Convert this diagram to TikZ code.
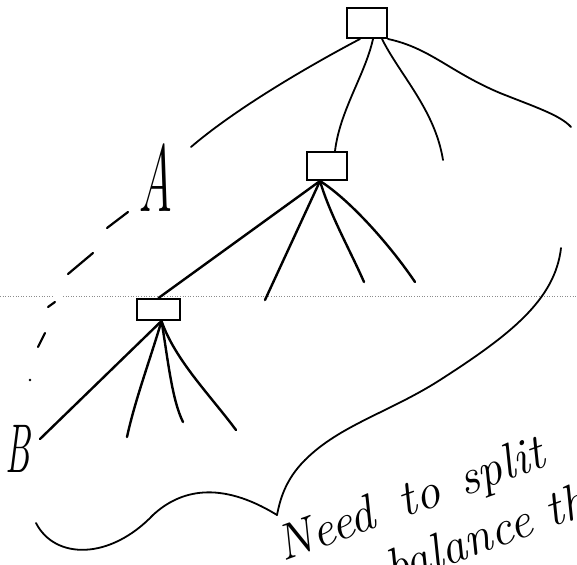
\documentclass[tikz,border=0pt]{standalone}
\usepackage{fontspec}
\usepackage{graphicx}
\begin{document}
\begin{tikzpicture}[x=1pt,y=-1pt,
  ink/.style={line width=1.8pt, line cap=round, line join=round},
  heavy/.style={line width=2.4pt, line cap=round, line join=round},
  boxnode/.style={draw, line width=2pt, inner sep=0pt, rectangle},
  dashseg/.style={line width=2.2pt, line cap=round},
  hand/.style={font=\fontsize{50}{50}\selectfont\itshape, inner sep=0pt, rotate=20},
  letter/.style={inner sep=0pt},
  scanline/.style={black!45, line width=0.6pt, dash pattern=on 1pt off 1.6pt}]
\useasboundingbox (0,0) rectangle (577,564);
\clip (0,0) rectangle (577,564);
\fill[white] (0,0) rectangle (577,564);

% faint scan line
\draw[scanline] (0,296) -- (53,296);
\draw[scanline] (63,296) -- (577,296);

% boxes
\node[boxnode, minimum width=40pt, minimum height=30pt] (top) at (367,23) {};
\node[boxnode, minimum width=40pt, minimum height=28pt] (mid) at (327,166) {};
\node[boxnode, minimum width=43pt, minimum height=21pt] (low) at (158.5,309.5) {};

% leaf ends
\coordinate (a1) at (191,147);
\coordinate (t3) at (443,160);
\coordinate (t4) at (571,127);
\coordinate (m1) at (265,300);
\coordinate (m2) at (364,282);
\coordinate (m3) at (415,282);
\coordinate (l1) at (40,439);
\coordinate (l2) at (127,437);
\coordinate (l3) at (183,422);
\coordinate (l4) at (236,430);
\coordinate (s0) at (561,248);
\coordinate (join) at (277,515);
\coordinate (w0) at (36,523);

% labels
\node[letter] (A) at (156,178) {\scalebox{0.5}[1]{\fontsize{95}{95}\selectfont\itshape A}};
\node[letter] (B) at (18,449) {\scalebox{0.52}[1]{\fontsize{69}{69}\selectfont\itshape B}};

% edges from the top box
\draw[ink] ([xshift=-7pt]top.south) .. controls (320,60) and (240,105) .. (a1);
\draw[ink] ([xshift=6pt]top.south) .. controls (365,75) and (340,110) .. ([xshift=8pt]mid.north);
\draw[ink] ([xshift=15pt]top.south) .. controls (400,75) and (435,110) .. (t3);
\draw[ink] (top.south east) .. controls (430,48) and (450,72) .. (500,93)
           .. controls (535,107) and (560,115) .. (t4);

% edges from the middle box
\draw[heavy] ([xshift=-7pt]mid.south) -- (low.north);
\draw[heavy] ([xshift=-7pt]mid.south) -- (m1);
\draw[heavy] ([xshift=-7pt]mid.south) .. controls (330,215) and (350,250) .. (m2);
\draw[heavy] ([xshift=-7pt]mid.south) .. controls (350,200) and (390,245) .. (m3);

% edges from the lower box
\draw[heavy] ([xshift=3pt]low.south) -- (l1);
\draw[heavy] ([xshift=3pt]low.south) .. controls (150,360) and (135,400) .. (l2);
\draw[heavy] ([xshift=3pt]low.south) .. controls (168,360) and (172,400) .. (l3);
\draw[heavy] ([xshift=3pt]low.south) .. controls (175,360) and (210,395) .. (l4);

% dashed link from A down to B
\draw[dashseg] (128,212) -- (107,228) (93,253) -- (68,274) (55,302) -- (48,307) (45,333) -- (38,347);
\fill (30,380) circle (1.4pt);

% big S curve and the wave meeting it
\draw[ink] (s0) .. controls (555,300) and (510,335) .. (440,380)
           .. controls (390,412) and (340,425) .. (305,460)
           .. controls (285,480) and (280,500) .. (join);
\draw[ink] (w0) .. controls (55,560) and (110,560) .. (153,515)
           .. controls (180,490) and (220,480) .. (join);

% handwritten note
\node[hand, anchor=base west] (note1) at (283,562) {Need\hspace{28pt}to\hspace{22pt}split};
\node[hand, anchor=base west] (note2) at (392,586) {balance the};
\end{tikzpicture}
\end{document}
